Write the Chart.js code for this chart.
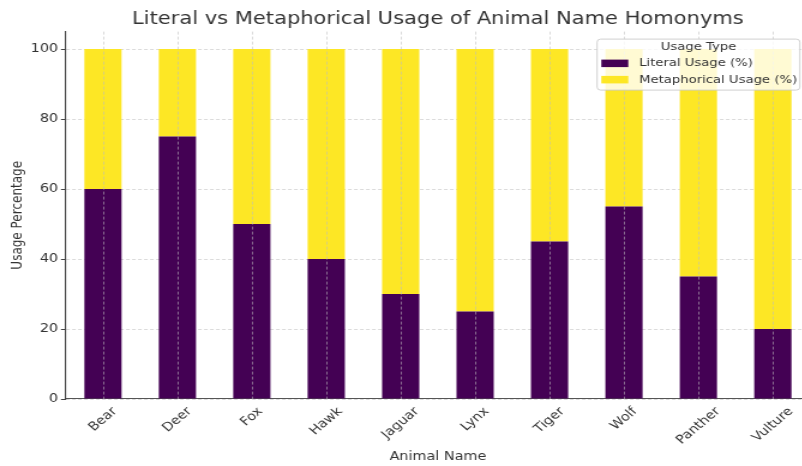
<!DOCTYPE html>
<html><head><meta charset="utf-8">
<script src="https://cdn.jsdelivr.net/npm/chart.js@4/dist/chart.umd.min.js"></script>
<style>
html,body{margin:0;padding:0;background:#fff;overflow:hidden;width:802px;height:466px;}
#wrap{position:absolute;left:0;top:0;width:811.2px;height:466px;}
canvas{display:block;}
</style></head><body>
<div id="wrap"><canvas id="c" width="676" height="466" style="width:811.2px;height:466px;"></canvas></div>
<script>
const categories = ['Bear','Deer','Fox','Hawk','Jaguar','Lynx','Tiger','Wolf','Panther','Vulture'];
const literalUsage = [60,75,50,40,30,25,45,55,35,20];
const metaphoricalUsage = [40,25,50,60,70,75,55,45,65,80];
const yTickValues = [0,20,40,60,80,100];
const seriesNames = ['Literal Usage (%)','Metaphorical Usage (%)'];
const seriesColors = ['#440154','#FDE725'];
const chartTitle = 'Literal vs Metaphorical Usage of Animal Name Homonyms';
const xTitle = 'Animal Name';
const yTitle = 'Usage Percentage';
const legendTitle = 'Usage Type';

const FONT = '"DejaVu Sans", sans-serif';
const TXT = '#333333';
const GRID = 'rgba(190,190,190,0.7)';

const xAxisPlugin = {
  id: 'xAxisExtras',
  afterDatasetsDraw(chart) {
    // vertical grid lines at category centres, drawn over the bars
    const ctx = chart.ctx, x = chart.scales.x, a = chart.chartArea;
    ctx.save();
    ctx.strokeStyle = GRID;
    ctx.lineWidth = 0.8;
    ctx.setLineDash([3, 2]);
    categories.forEach((lab, i) => {
      const px = Math.round(x.getPixelForTick(i)) + 0.5;
      ctx.beginPath();
      ctx.moveTo(px, a.top);
      ctx.lineTo(px, a.bottom);
      ctx.stroke();
    });
    ctx.restore();
  },
  afterDraw(chart) {
    const ctx = chart.ctx, x = chart.scales.x;
    ctx.save();
    ctx.font = '12px ' + FONT;
    ctx.fillStyle = TXT;
    ctx.textAlign = 'center';
    ctx.textBaseline = 'middle';
    const h = 13;
    categories.forEach((lab, i) => {
      const px = x.getPixelForTick(i);
      const w = ctx.measureText(lab).width;
      const cy = x.top + 6 + (w + h) * Math.SQRT1_2 / 2;
      ctx.save();
      ctx.translate(px, cy);
      ctx.rotate(-Math.PI / 4);
      ctx.fillText(lab, 0, 0);
      ctx.restore();
    });
    ctx.restore();
  }
};

const legendPlugin = {
  id: 'boxLegend',
  afterDraw(chart) {
    const ctx = chart.ctx;
    const area = chart.chartArea;
    const W = 169, H = 51;
    const L = area.right - 8.5 - W, T = area.top + 7.5;
    ctx.save();
    ctx.beginPath();
    if (ctx.roundRect) ctx.roundRect(L, T, W, H, 3); else ctx.rect(L, T, W, H);
    ctx.fillStyle = 'rgba(255,255,255,0.8)';
    ctx.fill();
    ctx.lineWidth = 1;
    ctx.strokeStyle = 'rgba(204,204,204,0.9)';
    ctx.stroke();
    ctx.font = '11px ' + FONT;
    ctx.fillStyle = TXT;
    ctx.textAlign = 'center';
    ctx.textBaseline = 'middle';
    ctx.fillText(legendTitle, L + W / 2, T + 8);
    ctx.textAlign = 'left';
    chart.data.datasets.forEach((ds, i) => {
      const cy = T + 24 + i * 16.3;
      ctx.fillStyle = ds.backgroundColor;
      ctx.fillRect(L + 3.5, cy - 3.5, 22.5, 7.5);
      ctx.fillStyle = TXT;
      ctx.fillText(ds.label, L + 35, cy + 0.5);
    });
    ctx.restore();
  }
};

new Chart(document.getElementById('c'), {
  type: 'bar',
  data: {
    labels: categories,
    datasets: [
      { label: seriesNames[0], data: literalUsage, backgroundColor: seriesColors[0], borderWidth: 0 },
      { label: seriesNames[1], data: metaphoricalUsage, backgroundColor: seriesColors[1], borderWidth: 0 }
    ]
  },
  options: {
    responsive: false,
    animation: false,
    devicePixelRatio: 1,
    layout: { padding: { left: 0, right: 0.8, top: 0, bottom: 0 } },
    datasets: { bar: { categoryPercentage: 1, barPercentage: 0.5 } },
    plugins: {
      legend: { display: false },
      tooltip: { enabled: false },
      title: {
        display: true, text: chartTitle, fullSize: false,
        color: TXT, font: { family: FONT, size: 17.5, weight: 'normal' },
        padding: { top: 8.5, bottom: 2.1 }
      }
    },
    scales: {
      x: {
        stacked: true,
        offset: true,
        z: 1,
        grid: { display: false, drawTicks: false },
        border: { display: true, color: '#555', width: 1.1 },
        ticks: { display: false },
        title: { display: true, text: xTitle, color: TXT, font: { family: FONT, size: 12 }, padding: { top: 0, bottom: 1.8 } },
        afterFit(s) { s.height = 67; }
      },
      y: {
        stacked: true,
        min: 0, max: 105,
        z: 1,
        afterBuildTicks(s) { s.ticks = yTickValues.map(v => ({ value: v })); },
        grid: { display: true, color: GRID, lineWidth: 0.8, drawTicks: true, tickLength: 4, tickColor: '#444', tickWidth: 1, tickBorderDash: [] },
        border: { display: true, color: '#444', width: 1.1, dash: [3, 2] },
        ticks: { color: TXT, font: { family: FONT, size: 12 }, padding: 2.4 },
        title: { display: true, text: yTitle, color: TXT, font: { family: FONT, size: 12 }, padding: { top: 7.8, bottom: 0 } },
        afterFit(s) { s.width = 54.8; }
      }
    }
  },
  plugins: [xAxisPlugin, legendPlugin]
});
</script>
</body></html>
